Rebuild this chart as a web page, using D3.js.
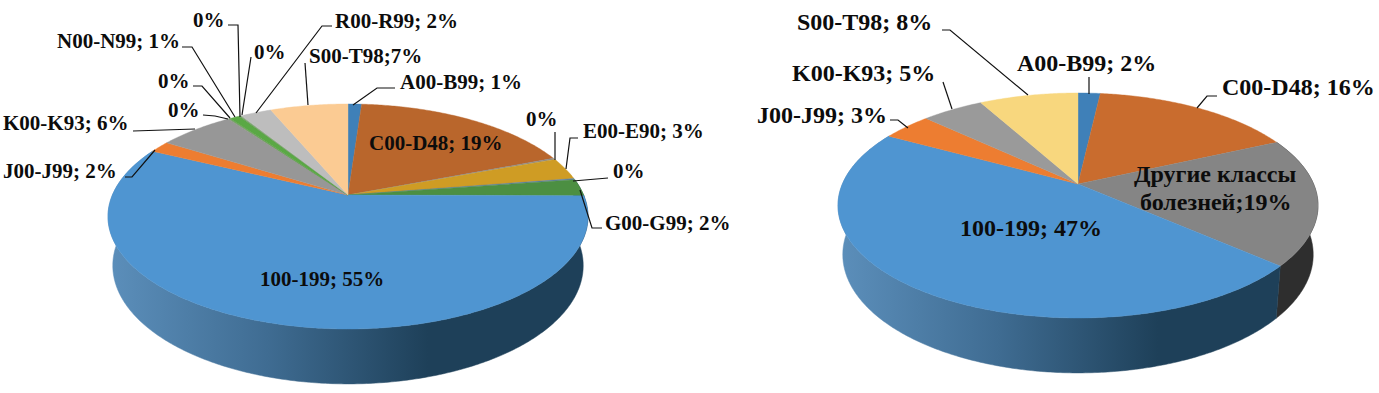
<!DOCTYPE html>
<html>
<head>
<meta charset="utf-8">
<script src="https://cdnjs.cloudflare.com/ajax/libs/d3/7.8.5/d3.min.js"></script>
<style>
  html, body { margin: 0; padding: 0; background: #fff; }
  text { font-family: "Liberation Serif", serif; font-weight: bold; fill: #0c0c0c; }
</style>
</head>
<body>
<script>
// Slice sizes as they look in the picture (printed labels are rounded and kept apart)
var leftCategories = ['A00-B99', 'C00-D48', 'D50-D89', 'E00-E90', 'F00-F99', 'G00-G99', 'I00-I99', 'J00-J99', 'K00-K93', 'L00-L99', 'M00-M99', 'N00-N99', 'O00-O99', 'Q00-Q99', 'R00-R99', 'S00-T98'];
var leftValues = [1.1, 18.0, 0.2, 3.2, 0.2, 2.4, 57.1, 1.7, 6.1, 0.1, 0.1, 0.8, 0.1, 0.1, 2.5, 6.3];
var leftColors = ['#3f80b8', '#b9662c', '#8e8e8e', '#cf9c24', '#5d7f9c', '#4c8f42', '#4f95d1', '#ed7d31', '#979797', '#8a9a80', '#6a9a5a', '#5aa845', '#6a9a5a', '#8fa888', '#bdbdbd', '#fbcb93'];

var rightCategories = ['A00-B99', 'C00-D48', 'other', 'I00-I99', 'J00-J99', 'K00-K93', 'S00-T98'];
var rightValues = [1.8, 16.4, 18.3, 46.5, 4.0, 5.0, 8.0];
var rightColors = ['#3f80b8', '#c96c2e', '#858585', '#4f95d1', '#ed7d31', '#9a9a9a', '#f8d77e'];

// wall shades, left to right
var blueWall = ['#5c8fbb', '#3f6c92', '#1e4059', '#1e4059'];
var greyWall = ['#4a4a4a', '#3a3a3a', '#2e2e2e', '#2e2e2e'];

// label text, anchor x, baseline y, leader polyline (ends on the rim)
var leftLabels = [
  { t: 'A00-B99; 1%', x: 400, y: 89, line: [[395, 88], [377, 88], [353, 105]] },
  { t: 'C00-D48; 19%', x: 369, y: 150 },
  { t: '0%', x: 526, y: 126, line: [[555, 132], [555, 160]] },
  { t: 'E00-E90; 3%', x: 583, y: 138, line: [[578, 138], [570, 138], [566, 169]] },
  { t: '0%', x: 613, y: 178, line: [[608, 178], [573, 181]] },
  { t: 'G00-G99; 2%', x: 605, y: 230, line: [[602, 228], [592, 228], [580, 190]] },
  { t: '100-199; 55%', x: 260, y: 286 },
  { t: 'J00-J99; 2%', x: 3, y: 178, line: [[125, 177], [132, 177], [155, 150]] },
  { t: 'K00-K93; 6%', x: 3, y: 130, line: [[133, 131], [195, 129]] },
  { t: '0%', x: 168, y: 117, line: [[203, 115], [215, 116], [228, 119]] },
  { t: '0%', x: 158, y: 88, line: [[193, 86], [202, 86], [230, 118]] },
  { t: 'N00-N99; 1%', x: 57, y: 48, line: [[182, 47], [192, 47], [235, 117]] },
  { t: '0%', x: 193, y: 27, line: [[228, 25], [238, 25], [240, 117]] },
  { t: '0%', x: 254, y: 59, line: [[251, 57], [242, 115]] },
  { t: 'R00-R99; 2%', x: 335, y: 28, line: [[332, 26], [322, 26], [256, 113]] },
  { t: 'S00-T98;7%', x: 309, y: 63, line: [[305, 63], [308, 105]] }
];
var rightLabels = [
  { t: 'A00-B99; 2%', x: 1017, y: 71, line: [[1089, 77], [1089, 94]] },
  { t: 'C00-D48; 16%', x: 1222, y: 95, line: [[1217, 96], [1207, 96], [1197, 108]] },
  { t: 'Другие классы', x: 1134, y: 182 },
  { t: 'болезней;19%', x: 1140, y: 210 },
  { t: '100-199; 47%', x: 960, y: 236 },
  { t: 'J00-J99; 3%', x: 757, y: 123, line: [[890, 120], [898, 120], [908, 128]] },
  { t: 'K00-K93; 5%', x: 792, y: 81, line: [[943, 82], [952, 109]] },
  { t: 'S00-T98; 8%', x: 797, y: 30, line: [[942, 30], [950, 30], [1028, 95]] }
];

var svg = d3.select('body').append('svg')
  .attr('width', 1379)
  .attr('height', 393)
  .style('display', 'block');
var defs = svg.append('defs');

// perspective factor: the apex of the pie sits above the middle of the ellipse
var persp = 0.191;
var rimA = 235.6, rimB = 108.4;

var line = d3.line();
var pie = d3.pie().sort(null).startAngle(0).endAngle(2 * Math.PI);

function drawPie(cx, cy, values, colors, labels, wallFor, id, fontSize) {
  var rim = function(theta) {
    var X = Math.sin(theta), Y = -Math.cos(theta), w = 1 - persp * Y;
    return [cx + rimA * X / w, cy + rimB * Y / w];
  };
  var floor = function(theta) {
    var X = Math.sin(theta), Y = -Math.cos(theta), w = 1 - persp * Y;
    return [cx + rimA * 0.98 * X / w, cy + 48 + 114 * Y / w];
  };
  var arcs = pie(values);
  var steps = function(a) {
    var n = Math.max(2, Math.ceil((a.endAngle - a.startAngle) * 90));
    return d3.range(n + 1).map(function(i) { return a.startAngle + (a.endAngle - a.startAngle) * i / n; });
  };

  // side wall goes first, the top surface paints over what should be hidden
  arcs.forEach(function(a, i) {
    var shades = wallFor(i);
    if (!shades) return;
    var gid = id + '-wall-' + i;
    var grad = defs.append('linearGradient')
      .attr('id', gid)
      .attr('gradientUnits', 'userSpaceOnUse')
      .attr('x1', cx - 240).attr('x2', cx + 240)
      .attr('y1', 0).attr('y2', 0);
    shades.forEach(function(c, j) {
      grad.append('stop').attr('offset', j / (shades.length - 1)).attr('stop-color', c);
    });
    var ts = steps(a);
    svg.append('path')
      .attr('d', line(ts.map(rim).concat(ts.slice().reverse().map(floor))) + 'Z')
      .attr('fill', 'url(#' + gid + ')')
      .attr('stroke', 'url(#' + gid + ')')
      .attr('stroke-width', 0.5);
  });

  svg.append('g').selectAll('path')
    .data(arcs)
    .enter()
    .append('path')
    .attr('d', function(a) { return line([[cx, cy]].concat(steps(a).map(rim))) + 'Z'; })
    .attr('fill', function(a, i) { return colors[i]; })
    .attr('stroke', function(a, i) { return colors[i]; })
    .attr('stroke-width', 0.4);

  var withLines = labels.filter(function(d) { return d.line; });
  svg.append('g').selectAll('path')
    .data(withLines)
    .enter()
    .append('path')
    .attr('d', function(d) { return line(d.line); })
    .attr('fill', 'none')
    .attr('stroke', '#111')
    .attr('stroke-width', 1.2);

  svg.append('g').selectAll('text')
    .data(labels)
    .enter()
    .append('text')
    .attr('x', function(d) { return d.x; })
    .attr('y', function(d) { return d.y; })
    .style('font-size', fontSize + 'px')
    .text(function(d) { return d.t; });
}

drawPie(348, 195, leftValues, leftColors, leftLabels, function(i) {
  return leftCategories[i] === 'I00-I99' ? blueWall : (leftCategories[i] === 'G00-G99' ? blueWall : null);
}, 'l', 21);

drawPie(1078, 184, rightValues, rightColors, rightLabels, function(i) {
  if (rightCategories[i] === 'I00-I99') return blueWall;
  if (rightCategories[i] === 'other') return greyWall;
  return null;
}, 'r', 24);
</script>
</body>
</html>
